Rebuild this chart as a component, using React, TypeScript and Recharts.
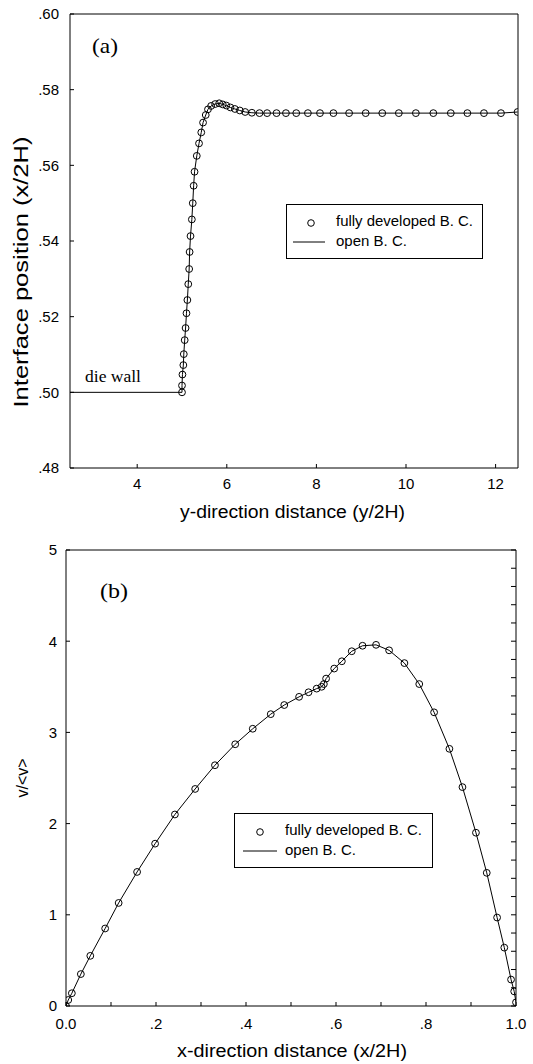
import { ComposedChart, Line, Scatter, XAxis, YAxis, Legend, Label } from 'recharts';

// (a) interface position vs y-direction distance
const aWallX = [2.5, 5.0];
const aWallY = [0.5, 0.5];
const aX = [
  5.0, 5.0, 5.01, 5.03, 5.04, 5.06, 5.08, 5.1, 5.12, 5.14, 5.16, 5.17, 5.19, 5.22, 5.24,
  5.26, 5.28, 5.33, 5.38, 5.43, 5.47, 5.53, 5.58, 5.65, 5.74, 5.83, 5.91, 5.99, 6.08,
  6.18, 6.29, 6.41, 6.56, 6.73, 6.9, 7.11, 7.32, 7.55, 7.81, 8.08, 8.38, 8.73, 9.1,
  9.47, 9.84, 10.22, 10.61, 11.0, 11.37, 11.74, 12.12, 12.49,
];
const aY = [
  0.5, 0.5018, 0.5047, 0.5072, 0.5101, 0.5138, 0.517, 0.5209, 0.5244, 0.5286, 0.5326,
  0.5371, 0.5413, 0.5457, 0.55, 0.5546, 0.5583, 0.5625, 0.5658, 0.5687, 0.5713, 0.5733,
  0.5748, 0.5757, 0.5762, 0.5764, 0.5761, 0.5758, 0.5753, 0.5749, 0.5745, 0.5741, 0.5739,
  0.5738, 0.5738, 0.5738, 0.5738, 0.5738, 0.5738, 0.5738, 0.5738, 0.5738, 0.5738, 0.5738,
  0.5738, 0.5738, 0.5738, 0.5738, 0.5738, 0.5738, 0.5738, 0.5741,
];
const aXTicks = [4, 6, 8, 10, 12];
const aYTicks = [0.48, 0.5, 0.52, 0.54, 0.56, 0.58, 0.6];

// (b) velocity profile across the channel
const bX = [
  0, 0.005, 0.013, 0.033, 0.054, 0.087, 0.117, 0.158, 0.198, 0.242, 0.287, 0.331, 0.376,
  0.415, 0.455, 0.485, 0.518, 0.539, 0.557, 0.568, 0.573, 0.578, 0.596, 0.613, 0.635,
  0.659, 0.689, 0.718, 0.752, 0.785, 0.818, 0.852, 0.881, 0.911, 0.935, 0.958, 0.974,
  0.989, 0.996, 1.0,
];
const bY = [
  0, 0.066, 0.14, 0.35, 0.55, 0.85, 1.13, 1.47, 1.78, 2.1, 2.38, 2.64, 2.87, 3.04, 3.2,
  3.3, 3.39, 3.44, 3.48, 3.5, 3.53, 3.59, 3.7, 3.78, 3.89, 3.95, 3.96, 3.9, 3.76, 3.53,
  3.22, 2.82, 2.4, 1.9, 1.46, 0.97, 0.64, 0.29, 0.16, 0.04,
];
const bXTicks = [0, 0.1, 0.2, 0.3, 0.4, 0.5, 0.6, 0.7, 0.8, 0.9, 1.0];
const bYTicks = [0, 1, 2, 3, 4, 5];
const bRightTicks = [
  0, 0.2, 0.4, 0.6, 0.8, 1, 1.2, 1.4, 1.6, 1.8, 2, 2.2, 2.4, 2.6, 2.8, 3, 3.2, 3.4, 3.6,
  3.8, 4, 4.2, 4.4, 4.6, 4.8, 5,
];

const SANS = '"Liberation Sans", Arial, sans-serif';
const SERIF = '"Liberation Serif", "Times New Roman", serif';

const toPoints = (xs: number[], ys: number[]) => xs.map((x, i) => ({ x, y: ys[i] }));

const aCircles = toPoints(aX, aY);
const aLine = [...toPoints(aWallX, aWallY), ...aCircles];
const bCircles = toPoints(bX, bY);

const tickStyle = { fontSize: 15, fill: '#000', fontFamily: SANS };

const hollow = (p: any) => (
  <circle cx={p.cx} cy={p.cy} r={3.4} fill="none" stroke="#000" strokeWidth={1} />
);

const textAt =
  (
    text: string,
    x: number,
    y: number,
    size: number,
    length: number,
    opts: { rotate?: boolean; serif?: boolean; anchor?: string } = {}
  ) =>
  () => (
    <text
      x={x}
      y={y}
      fontSize={size}
      fontFamily={opts.serif ? SERIF : SANS}
      textAnchor={opts.anchor || 'middle'}
      textLength={length}
      lengthAdjust="spacingAndGlyphs"
      transform={opts.rotate ? `rotate(-90 ${x} ${y})` : undefined}
      fill="#000"
    >
      {text}
    </text>
  );

const legendBox = (w: number, mx: number, lx1: number, lx2: number, tx: number) => () => (
  <svg width={w} height={55} style={{ display: 'block' }}>
    <rect x={0.5} y={0.5} width={w - 1} height={54} fill="#fff" stroke="#000" />
    <circle cx={mx} cy={19} r={3.3} fill="none" stroke="#000" />
    <line x1={lx1} x2={lx2} y1={38} y2={38} stroke="#000" />
    <text x={tx} y={22} fontSize={15} fontFamily={SANS} textLength={137} lengthAdjust="spacingAndGlyphs">
      fully developed B. C.
    </text>
    <text x={tx} y={41.5} fontSize={15} fontFamily={SANS}>
      open B. C.
    </text>
  </svg>
);

const fmtA = (v: number) => v.toFixed(2).slice(1);
const fmtB = (v: number) => {
  const k = Math.round(v * 10);
  if (k % 2 !== 0) return '';
  if (k === 0) return '0.0';
  if (k === 10) return '1.0';
  return v.toFixed(1).slice(1);
};

function PanelA() {
  return (
    <ComposedChart width={533} height={530} margin={{ top: 13, right: 14, bottom: 0, left: 10 }}>
      <XAxis
        dataKey="x"
        type="number"
        domain={[2.5, 12.5]}
        ticks={aXTicks}
        allowDataOverflow
        height={62}
        stroke="#000"
        tickSize={-4}
        tickMargin={14}
        tick={tickStyle}
      >
        <Label content={textAt('y-direction distance (y/2H)', 292.5, 518, 18, 225)} />
        <Label content={textAt('(a)', 92, 53, 21, 26, { serif: true, anchor: 'start' })} />
        <Label content={textAt('die wall', 85, 382, 17.5, 56, { serif: true, anchor: 'start' })} />
      </XAxis>
      <XAxis
        xAxisId="top"
        orientation="top"
        type="number"
        domain={[2.5, 12.5]}
        height={1}
        stroke="#000"
        tick={false}
        tickLine={false}
      />
      <YAxis
        dataKey="y"
        type="number"
        domain={[0.48, 0.6]}
        ticks={aYTicks}
        allowDataOverflow
        width={60}
        stroke="#000"
        tickSize={-4}
        tickMargin={15}
        tick={tickStyle}
        tickFormatter={fmtA}
      >
        <Label content={textAt('Interface position (x/2H)', 27.5, 272, 19.5, 271, { rotate: true })} />
      </YAxis>
      <YAxis
        yAxisId="right"
        orientation="right"
        type="number"
        domain={[0.48, 0.6]}
        width={1}
        stroke="#000"
        tick={false}
        tickLine={false}
      />
      <Line data={aLine} dataKey="y" type="linear" stroke="#000" strokeWidth={1} dot={false} isAnimationActive={false} />
      <Scatter data={aCircles} dataKey="y" shape={hollow} isAnimationActive={false} />
      <Legend
        layout="horizontal"
        verticalAlign="middle"
        align="center"
        content={legendBox(197, 25, 7, 39, 50)}
        wrapperStyle={{ left: 286, top: 204, width: 197, height: 55 }}
      />
    </ComposedChart>
  );
}

function PanelB() {
  return (
    <ComposedChart width={533} height={534} margin={{ top: 19, right: 16, bottom: 0, left: 8 }}>
      <XAxis
        dataKey="x"
        type="number"
        domain={[0, 1]}
        ticks={bXTicks}
        allowDataOverflow
        height={58}
        stroke="#000"
        tickSize={-4}
        tickMargin={16}
        tick={tickStyle}
        tickFormatter={fmtB}
        interval={0}
      >
        <Label content={textAt('x-direction distance (x/2H)', 292, 527, 18, 230)} />
        <Label content={textAt('(b)', 100, 68, 21, 28, { serif: true, anchor: 'start' })} />
      </XAxis>
      <XAxis
        xAxisId="top"
        orientation="top"
        type="number"
        domain={[0, 1]}
        height={1}
        stroke="#000"
        tick={false}
        tickLine={false}
      />
      <YAxis
        dataKey="y"
        type="number"
        domain={[0, 5]}
        ticks={bYTicks}
        allowDataOverflow
        width={58}
        stroke="#000"
        tickSize={-4}
        tickMargin={13}
        tick={tickStyle}
      >
        <Label content={textAt('v/<v>', 28, 248, 17, 39, { rotate: true })} />
      </YAxis>
      <YAxis
        yAxisId="right"
        orientation="right"
        type="number"
        domain={[0, 5]}
        ticks={bRightTicks}
        interval={0}
        allowDataOverflow
        width={1}
        stroke="#000"
        tickLine={{ stroke: '#000' }}
        tickSize={-5}
        tickFormatter={() => ''}
      />
      <Line data={bCircles} dataKey="y" type="linear" stroke="#000" strokeWidth={1} dot={false} isAnimationActive={false} />
      <Scatter data={bCircles} dataKey="y" shape={hollow} isAnimationActive={false} />
      <Legend
        layout="horizontal"
        verticalAlign="middle"
        align="center"
        content={legendBox(199, 26, 9, 43, 51)}
        wrapperStyle={{ left: 234, top: 283, width: 199, height: 55 }}
      />
    </ComposedChart>
  );
}

export default function App() {
  return (
    <div style={{ position: 'absolute', left: 0, top: 0, width: 533, height: 1064, background: '#fff' }}>
      <div style={{ position: 'absolute', left: 0, top: 0 }}>
        <PanelA />
      </div>
      <div style={{ position: 'absolute', left: 0, top: 530 }}>
        <PanelB />
      </div>
    </div>
  );
}
